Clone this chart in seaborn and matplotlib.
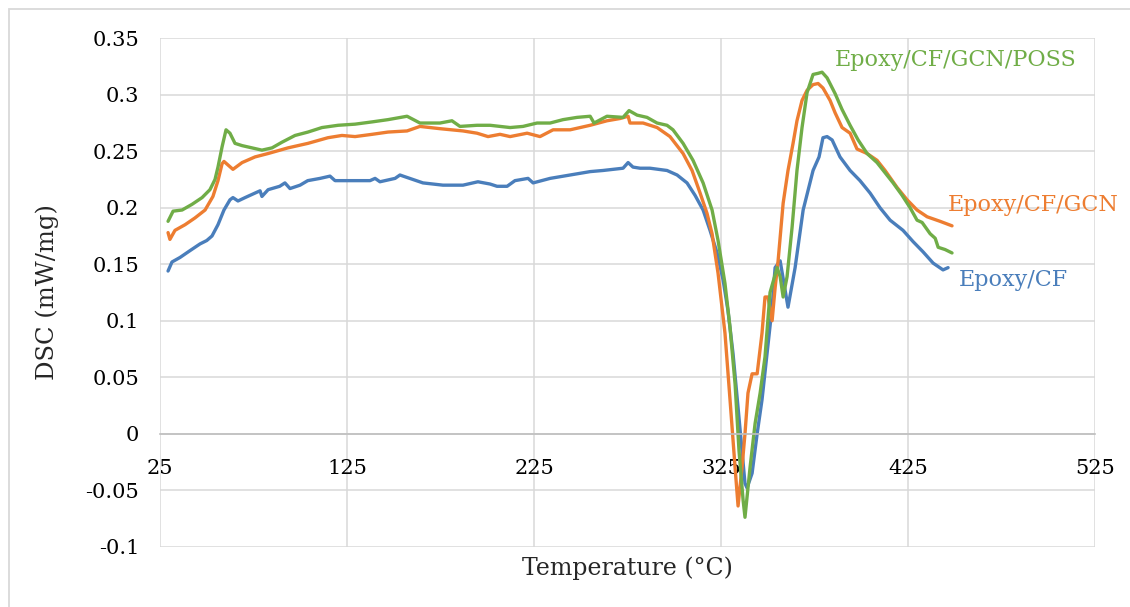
import numpy as np
import pandas as pd
import matplotlib
matplotlib.use("Agg")
import matplotlib.pyplot as plt
import seaborn as sns
from matplotlib.patches import Rectangle
from matplotlib.ticker import FuncFormatter

# values (temperature in degC, DSC in mW/mg)
cf_temp = [29.3, 31.4, 35.7, 41.0, 46.4, 50.0, 52.8, 56.0, 59.2, 62.4, 64.0, 66.7, 70.5, 75.8,
           78.5, 79.5, 82.8, 89.0, 91.8, 94.5, 99.9, 104.0, 110.6, 115.9, 118.6, 126.6, 137.3,
           140.0, 142.6, 150.7, 153.3, 155.0, 165.6, 176.3, 187.0, 195.0, 201.5, 205.2, 210.6,
           214.8, 221.8, 224.5, 233.6, 244.3, 255.0, 261.9, 272.6, 275.3, 277.9, 281.7, 287.0,
           296.1, 301.5, 306.8, 311.1, 315.4, 319.1, 322.9, 326.1, 328.7, 331.4, 334.1, 336.2,
           337.8, 338.9, 341.6, 344.3, 346.9, 349.6, 352.3, 353.9, 356.6, 360.8, 364.6, 368.9,
           374.2, 377.4, 379.5, 381.7, 384.4, 388.6, 394.0, 399.3, 404.7, 410.0, 415.4, 422.3,
           427.7, 433.0, 438.4, 443.7, 446.4]
cf_dsc = [0.144, 0.152, 0.156, 0.162, 0.168, 0.171, 0.175, 0.185, 0.198, 0.207, 0.209, 0.206,
          0.209, 0.213, 0.215, 0.210, 0.216, 0.219, 0.222, 0.217, 0.220, 0.224, 0.226, 0.228,
          0.224, 0.224, 0.224, 0.226, 0.223, 0.226, 0.229, 0.228, 0.222, 0.220, 0.220, 0.223,
          0.221, 0.219, 0.219, 0.224, 0.226, 0.222, 0.226, 0.229, 0.232, 0.233, 0.235, 0.240,
          0.236, 0.235, 0.235, 0.233, 0.229, 0.222, 0.211, 0.198, 0.180, 0.160, 0.136, 0.109,
          0.071, 0.023, -0.015, -0.044, -0.048, -0.035, 0.000, 0.030, 0.071, 0.112, 0.147,
          0.153, 0.112, 0.147, 0.198, 0.233, 0.245, 0.262, 0.263, 0.260, 0.245, 0.233, 0.224,
          0.213, 0.200, 0.189, 0.180, 0.170, 0.161, 0.151, 0.145, 0.147]

gcn_temp = [29.3, 30.3, 33.0, 38.4, 43.7, 49.1, 53.3, 56.0, 58.2, 59.2, 64.0, 68.9, 75.8, 82.8,
            93.4, 104.1, 114.8, 122.3, 129.3, 138.4, 146.9, 157.1, 164.0, 174.7, 187.0, 194.5,
            200.4, 206.8, 212.2, 221.3, 228.2, 235.2, 244.3, 255.0, 264.0, 271.0, 275.3, 276.3,
            283.3, 290.8, 297.7, 304.7, 309.5, 313.8, 317.5, 320.2, 323.4, 327.1, 329.8, 332.5,
            334.1, 336.2, 337.8, 339.4, 341.6, 344.3, 346.9, 348.5, 350.1, 352.3, 353.9, 355.5,
            358.2, 360.8, 363.5, 365.6, 368.3, 371.0, 374.2, 376.9, 379.5, 383.3, 386.0, 389.7,
            394.0, 397.7, 403.1, 408.4, 412.7, 419.1, 424.5, 429.8, 435.2, 442.1, 448.5]
gcn_dsc = [0.178, 0.172, 0.180, 0.185, 0.191, 0.198, 0.210, 0.224, 0.239, 0.241, 0.234, 0.240,
           0.245, 0.248, 0.253, 0.257, 0.262, 0.264, 0.263, 0.265, 0.267, 0.268, 0.272, 0.270,
           0.268, 0.266, 0.263, 0.265, 0.263, 0.266, 0.263, 0.269, 0.269, 0.273, 0.277, 0.279,
           0.281, 0.275, 0.275, 0.271, 0.263, 0.248, 0.233, 0.213, 0.195, 0.177, 0.142, 0.089,
           0.030, -0.030, -0.064, -0.030, 0.000, 0.036, 0.053, 0.053, 0.089, 0.121, 0.121,
           0.100, 0.129, 0.153, 0.204, 0.233, 0.257, 0.277, 0.295, 0.304, 0.309, 0.310, 0.306,
           0.295, 0.284, 0.271, 0.266, 0.252, 0.248, 0.242, 0.233, 0.218, 0.207, 0.198, 0.192,
           0.188, 0.184]

poss_temp = [29.3, 32.0, 36.8, 42.1, 47.5, 51.7, 54.4, 56.0, 58.2, 60.3, 62.4, 65.1, 68.9, 74.2,
             79.5, 84.9, 90.2, 97.2, 104.1, 111.6, 120.2, 129.3, 138.4, 146.9, 157.1, 164.0,
             174.7, 181.1, 185.4, 194.5, 201.5, 212.2, 219.1, 226.6, 233.6, 240.5, 248.0, 255.0,
             257.1, 264.0, 272.6, 275.8, 280.1, 285.4, 290.8, 296.1, 299.3, 304.7, 310.0, 315.4,
             320.2, 323.4, 327.1, 329.8, 332.5, 334.6, 336.8, 337.8, 340.5, 343.2, 345.9, 348.5,
             351.2, 355.0, 356.6, 358.2, 360.3, 363.0, 365.6, 368.3, 371.0, 374.2, 376.9, 379.0,
             381.7, 386.0, 389.7, 394.0, 398.3, 403.1, 408.4, 412.7, 417.0, 421.8, 426.1, 429.8,
             432.5, 436.8, 439.5, 441.1, 444.8, 448.5]
poss_dsc = [0.188, 0.197, 0.198, 0.203, 0.209, 0.216, 0.225, 0.236, 0.254, 0.269, 0.266, 0.257,
            0.255, 0.253, 0.251, 0.253, 0.258, 0.264, 0.267, 0.271, 0.273, 0.274, 0.276, 0.278,
            0.281, 0.275, 0.275, 0.277, 0.272, 0.273, 0.273, 0.271, 0.272, 0.275, 0.275, 0.278,
            0.280, 0.281, 0.275, 0.281, 0.280, 0.286, 0.282, 0.280, 0.275, 0.273, 0.269, 0.257,
            0.242, 0.222, 0.198, 0.171, 0.133, 0.094, 0.044, -0.015, -0.059, -0.074, -0.030,
            0.009, 0.036, 0.068, 0.125, 0.147, 0.139, 0.121, 0.139, 0.183, 0.233, 0.271, 0.302,
            0.318, 0.319, 0.320, 0.315, 0.301, 0.287, 0.273, 0.260, 0.248, 0.240, 0.231, 0.222,
            0.211, 0.200, 0.189, 0.187, 0.177, 0.173, 0.165, 0.163, 0.160]

names = ["Epoxy/CF", "Epoxy/CF/GCN", "Epoxy/CF/GCN/POSS"]
colors = ["#4a7ebb", "#ed7d31", "#70ad47"]
x_ticks = [25, 125, 225, 325, 425, 525]
y_ticks = [-0.1, -0.05, 0, 0.05, 0.1, 0.15, 0.2, 0.25, 0.3, 0.35]

df = pd.concat([
    pd.DataFrame({"T": cf_temp, "DSC": cf_dsc, "sample": names[0]}),
    pd.DataFrame({"T": gcn_temp, "DSC": gcn_dsc, "sample": names[1]}),
    pd.DataFrame({"T": poss_temp, "DSC": poss_dsc, "sample": names[2]}),
], ignore_index=True)

sns.set_style("white")
plt.rcParams["font.family"] = ["DejaVu Serif"]

fig = plt.figure(figsize=(11.3, 6.07), dpi=100)
ax = fig.add_axes([0.1416, 0.0994, 0.8275, 0.8375])

sns.lineplot(data=df, x="T", y="DSC", hue="sample", palette=dict(zip(names, colors)),
             estimator=None, sort=False, legend=False, linewidth=2.4, ax=ax)

ax.set_xlim(25, 525)
ax.set_ylim(-0.1, 0.35)
ax.set_xticks(x_ticks)
ax.set_yticks(y_ticks)
ax.yaxis.set_major_formatter(FuncFormatter(lambda v, p: f"{round(v, 2):g}"))
ax.grid(True, color="#d9d9d9", linewidth=1.1)
ax.set_axisbelow(True)

for s in ["top", "right", "left"]:
    ax.spines[s].set_visible(False)
ax.spines["bottom"].set_position(("data", 0))
ax.spines["bottom"].set_color("#bfbfbf")
ax.spines["bottom"].set_linewidth(1.2)
ax.tick_params(axis="both", length=0, labelsize=15, colors="black")
ax.tick_params(axis="x", pad=18)
ax.tick_params(axis="y", pad=15)

ax.set_xlabel("Temperature (°C)", fontsize=17)
ax.xaxis.set_label_coords(0.5, -0.02)
ax.set_ylabel("DSC (mW/mg)", fontsize=17.5)
ax.yaxis.set_label_coords(-0.108, 0.5)

label_pos = [(452.3, 0.136), (446.4, 0.202), (386.0, 0.331)]
for name, c, (tx, ty) in zip(names, colors, label_pos):
    ax.text(tx, ty, name, color=c, fontsize=16, ha="left", va="center")

fig.patches.append(Rectangle((9 / 1130, -0.1), 1.2, 1.1 - 9 / 607, transform=fig.transFigure,
                             fill=False, edgecolor="#d9d9d9", linewidth=1.3))

fig.savefig("out.png", dpi=100)
